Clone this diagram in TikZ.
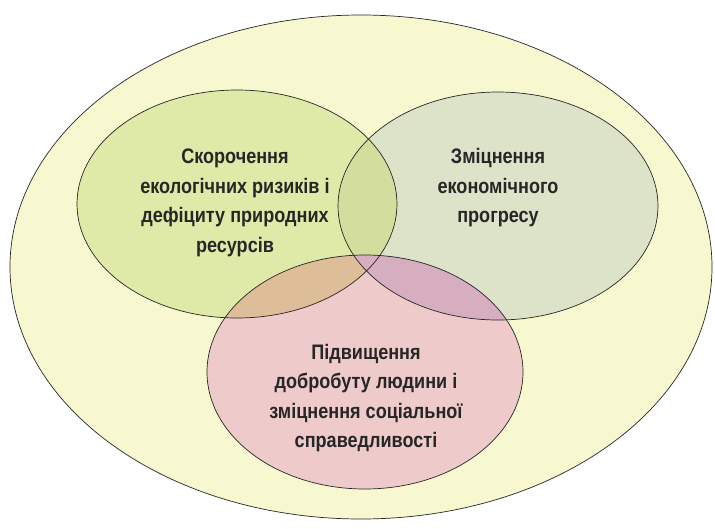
\documentclass[tikz,border=0pt]{standalone}
\usepackage{fontspec}
\setmainfont{Liberation Sans}[FakeStretch=0.86]
\usepackage{xcolor}
\usepackage{tikz}
\usetikzlibrary{positioning}

\definecolor{outerfill}{HTML}{F8F8D0}
\definecolor{ecofill}{HTML}{E0EAA8}
\definecolor{econfill}{HTML}{DDE3C8}
\definecolor{socfill}{HTML}{EECACA}
\definecolor{ecosocfill}{HTML}{DEBE98}
\definecolor{econsocfill}{HTML}{D6AEC0}
\definecolor{ecoeconfill}{HTML}{D3DE9E}

\begin{document}
\begin{tikzpicture}[
  x=1pt,y=-1pt,
  zone/.style={draw=black!85,line width=0.7pt},
  lbl/.style={align=center,font=\bfseries\fontsize{21}{29.5}\selectfont,text=black!85}
]
\useasboundingbox (0,0) rectangle (715,528);
\def\outerzone{(361,267) ellipse [x radius=351,y radius=252]}
\def\ecozone{(237,204) ellipse [x radius=160,y radius=114]}
\def\econzone{(498,206) ellipse [x radius=160,y radius=114]}
\def\soczone{(365,372) ellipse [x radius=158,y radius=117]}
% fills
\fill[outerfill] \outerzone;
\fill[ecofill] \ecozone;
\fill[econfill] \econzone;
\fill[socfill] \soczone;
% overlaps
\begin{scope}
  \clip \ecozone;
  \fill[ecoeconfill] \econzone;
  \fill[ecosocfill] \soczone;
\end{scope}
\begin{scope}
  \clip \econzone;
  \fill[econsocfill] \soczone;
\end{scope}
% outlines
\draw[zone] \outerzone;
\draw[zone] \ecozone;
\draw[zone] \econzone;
\draw[zone] \soczone;
% labels
\node[lbl] (eco) at (235,203) {Скорочення\\екологічних ризиків і\\дефіциту природних\\ресурсів};
\node[lbl] (econ) at (498,188) {Зміцнення\\економічного\\прогресу};
\node[lbl] (soc) at (366,398) {Підвищення\\добробуту людини і\\зміцнення соціальної\\справедливості};
\end{tikzpicture}
\end{document}
